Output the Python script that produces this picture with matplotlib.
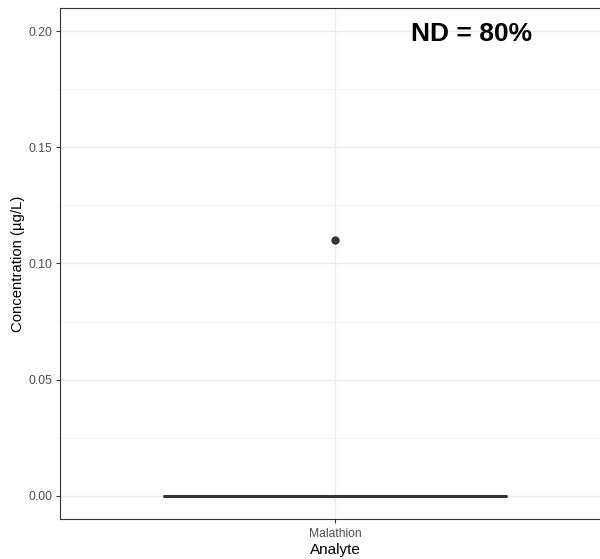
import matplotlib
matplotlib.use("Agg")
import matplotlib.pyplot as plt
import numpy as np

plt.rcParams['font.family'] = ['Liberation Sans', 'DejaVu Sans']

categories = ["Malathion"]
values = [[0.0, 0.0, 0.0, 0.0, 0.11]]
annotation = "ND = 80%"

fig = plt.figure(figsize=(6.0, 5.59), dpi=100)
ax = fig.add_axes([60/600, 1 - 519/559, 550/600, 511/559])

bp = ax.boxplot(values, positions=[1], widths=0.75, patch_artist=True,
                whis=1.5, manage_ticks=False,
                boxprops=dict(facecolor='white', edgecolor='#333333', linewidth=1.0),
                medianprops=dict(color='#333333', linewidth=2.2),
                whiskerprops=dict(color='#333333', linewidth=1.0),
                capprops=dict(linewidth=0),
                flierprops=dict(marker='o', markerfacecolor='#333333',
                                markeredgecolor='#333333', markersize=5))

ax.set_xlim(0.4, 1.6)
ax.set_ylim(-0.01, 0.21)
ax.set_xticks([1])
ax.set_xticklabels(categories)
ax.set_yticks([0, 0.05, 0.10, 0.15, 0.20])
ax.set_yticklabels(["0.00", "0.05", "0.10", "0.15", "0.20"])
ax.set_yticks([0.025, 0.075, 0.125, 0.175], minor=True)

ax.grid(True, which='major', color='#EBEBEB', linewidth=1.0)
ax.grid(True, which='minor', axis='y', color='#EBEBEB', linewidth=0.5)
ax.set_axisbelow(True)

for s in ax.spines.values():
    s.set_color('#333333')
    s.set_linewidth(0.8)

ax.tick_params(axis='both', which='major', colors='#333333', labelcolor='#4D4D4D',
               labelsize=8.7, length=3, width=0.8)
ax.tick_params(axis='y', which='major', pad=2.5)
ax.tick_params(axis='both', which='minor', length=0)

ax.set_xlabel("Analyte", fontsize=11, color='black', labelpad=2)
ax.set_ylabel("Concentration (µg/L)", fontsize=10.7, color='black', labelpad=2.5)

ax.text(1.297, 0.1957, annotation, fontsize=19, fontweight='bold',
        ha='center', va='baseline', color='black')

fig.savefig("out.png", dpi=100)
